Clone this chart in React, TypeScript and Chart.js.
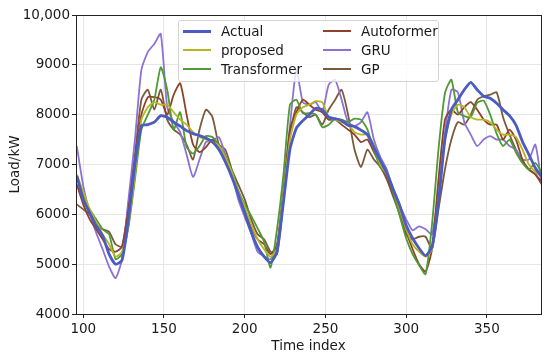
import React, { useEffect, useRef } from "react";
import { Chart, registerables } from "chart.js";

Chart.register(...registerables);

const timeIndex = [
  96, 100, 104, 108, 112, 116, 120, 124, 128, 132, 136, 140, 144, 148, 152, 156, 160, 164, 168, 172,
  176, 180, 184, 188, 192, 196, 200, 204, 208, 212, 216, 220, 224, 228, 232, 236, 240, 244, 248, 252,
  256, 260, 264, 268, 272, 276, 280, 284, 288, 292, 296, 300, 304, 308, 312, 316, 320, 324, 328, 332,
  336, 340, 344, 348, 352, 356, 360, 364, 368, 372, 376, 380, 384,
];

const actual = [
  6770, 6300, 6030, 5770, 5570, 5200, 5000, 5080, 5900, 7000, 7780, 7800, 7850, 7980, 7950, 7850, 7770, 7680, 7620, 7580,
  7530, 7450, 7300, 7050, 6750, 6400, 6030, 5650, 5340, 5150, 5030, 5250, 6250, 7300, 7730, 7880, 8000, 8130, 8100, 7950,
  7920, 7880, 7790, 7760, 7690, 7600, 7350, 7080, 6830, 6500, 6180, 5780, 5520, 5320, 5170, 5350, 6250, 7500, 8100, 8300,
  8500, 8650, 8500, 8370, 8330, 8230, 8100, 7980, 7790, 7460, 7200, 6930, 6750,
];

const proposed = [
  6800, 6450, 6100, 5850, 5600, 5400, 5150, 5250, 5800, 6800, 7900, 8150, 8250, 8200, 8200, 8050, 7900, 7800, 7650, 7550,
  7500, 7450, 7380, 7150, 6850, 6450, 6150, 5800, 5500, 5300, 5150, 5300, 6400, 7500, 8000, 8150, 8200, 8270, 8250, 7950,
  7900, 7850, 7800, 7650, 7600, 7600, 7400, 7000, 6800, 6500, 6100, 5700, 5400, 5250, 5150, 5300, 6300, 7500, 8000, 8200,
  8150, 7950, 7900, 7900, 7850, 7700, 7600, 7600, 7550, 7300, 7000, 6850, 6750,
];

const transformer = [
  6750, 6400, 6100, 5900, 5700, 5600, 5100, 5200, 5750, 6700, 7700, 8000, 8300, 8950, 8500, 7700, 8050, 7350, 7220, 7370,
  7570, 7550, 7380, 7150, 6880, 6480, 6200, 5970, 5720, 5450, 4930, 5700, 6800, 8200, 8300, 8030, 8030, 8000, 7750, 7800,
  7920, 7900, 7850, 7920, 7900, 7700, 7300, 6950, 6830, 6430, 5970, 5520, 5200, 4980, 4800, 5800, 7300, 8430, 8700, 8050,
  7970, 7950, 8240, 8280, 8000, 7620, 7370, 7500, 7240, 7030, 6900, 7030, 6830,
];

const autoformer = [
  6600, 6200, 5900, 5700, 5500, 5300, 5250, 5350, 6100, 7100, 8000, 8350, 8350, 8300, 8000, 8400, 8630, 8000, 7400, 7250,
  7350, 7500, 7380, 7150, 6850, 6450, 6100, 5750, 5500, 5400, 5200, 5400, 6500, 7700, 8050, 8300, 8200, 8100, 8050, 7900,
  7900, 7800, 7700, 7600, 7450, 7500, 7250, 7000, 6750, 6400, 6050, 5650, 5300, 5000, 4850, 5300, 6700, 7900, 8100, 8000,
  8150, 8250, 8100, 7900, 7800, 7800, 7500, 7700, 7500, 7100, 6900, 6800, 6650,
];

const gru = [
  7370, 6570, 6030, 5630, 5300, 4950, 4720, 5100, 6300, 7500, 8900, 9260, 9420, 9620, 8150, 7850, 7650, 7200, 6750, 7100,
  7450, 7480, 7550, 7200, 6800, 6300, 5950, 5620, 5250, 5160, 5100, 5350, 6400, 7770, 8900, 8250, 8200, 8250, 8050, 8600,
  8700, 8300, 7850, 7770, 7850, 8050, 7500, 7150, 6900, 6500, 6180, 5900, 5680, 5760, 5700, 5600, 6450, 7630, 8500, 8450,
  7850, 7600, 7370, 7500, 7570, 7500, 7500, 7370, 7300, 7100, 7100, 7400, 6600,
];

const gp = [
  6200, 6100, 6000, 5800, 5700, 5650, 5400, 5350, 6200, 7200, 8300, 8500, 8100, 8500, 7900, 7700, 7600, 7400, 7100, 7700,
  8100, 7950, 7400, 7300, 6900, 6600, 6300, 5900, 5600, 5500, 5250, 5200, 6300, 7600, 8150, 8050, 7950, 8000, 7800, 8100,
  8300, 8500, 8000, 7300, 6950, 7300, 7100, 6950, 6700, 6350, 6000, 5600, 5500, 5550, 5550, 5300, 6100, 6900, 7500, 7850,
  7800, 8000, 8300, 8370, 8400, 8450, 7950, 7600, 7300, 7050, 6900, 6800, 6600,
];

const xTicks = [100, 150, 200, 250, 300, 350];
const yTicks = [4000, 5000, 6000, 7000, 8000, 9000, 10000];
const yTickLabels = ["4000", "5000", "6000", "7000", "8000", "9000", "10,000"];

const seriesList = [
  { label: "Actual", data: actual, color: "#4a5bc4", width: 2.8 },
  { label: "proposed", data: proposed, color: "#b8b522", width: 1.8 },
  { label: "Transformer", data: transformer, color: "#4e9a36", width: 1.8 },
  { label: "Autoformer", data: autoformer, color: "#8f4228", width: 1.8 },
  { label: "GRU", data: gru, color: "#8c72d4", width: 1.8 },
  { label: "GP", data: gp, color: "#7a5a3c", width: 1.8 },
];

const legendCols = [
  ["Actual", "proposed", "Transformer"],
  ["Autoformer", "GRU", "GP"],
];

const FONT = "'DejaVu Sans', sans-serif";
const TEXT = "#1a1a1a";

const framePlugin = {
  id: "frame",
  afterDatasetsDraw(chart: any) {
    const { ctx, chartArea } = chart;
    const { left, top, right, bottom } = chartArea;
    ctx.save();
    ctx.strokeStyle = "#222";
    ctx.lineWidth = 1;
    ctx.strokeRect(Math.round(left) + 0.5, Math.round(top) + 0.5, Math.round(right - left), Math.round(bottom - top));
    ctx.restore();
  },
};

export default function App() {
  const canvasRef = useRef<HTMLCanvasElement | null>(null);

  useEffect(() => {
    if (!canvasRef.current) return;
    Chart.defaults.font.family = FONT;
    const chart = new Chart(canvasRef.current, {
      type: "line",
      data: {
        datasets: seriesList.map((s) => ({
          label: s.label,
          data: timeIndex.map((t, i) => ({ x: t, y: s.data[i] })),
          borderColor: s.color,
          backgroundColor: s.color,
          borderWidth: s.width,
          pointRadius: 0,
          tension: 0.2,
          fill: false,
        })),
      },
      options: {
        responsive: false,
        animation: false,
        maintainAspectRatio: false,
        layout: { padding: { top: 15, right: 9, left: 0, bottom: 0 }, autoPadding: false } as any,
        plugins: {
          legend: { display: false },
          tooltip: { enabled: false },
        },
        scales: {
          x: {
            type: "linear",
            min: 95.5,
            max: 383.5,
            afterBuildTicks: (s: any) => {
              s.ticks = xTicks.map((v) => ({ value: v }));
            },
            afterFit: (s: any) => {
              s.height = 46;
            },
            ticks: {
              color: TEXT,
              font: { size: 13.5 },
              padding: 3,
              maxRotation: 0,
              autoSkip: false,
              callback: (v: any) => String(v),
            },
            grid: { color: "#e6e6e6", tickColor: "#222", tickLength: 4, lineWidth: 1 },
            border: { display: false },
            title: {
              display: true,
              text: "Time index",
              color: TEXT,
              font: { size: 13.5 },
              padding: { top: 0, bottom: 5 },
            },
          },
          y: {
            type: "linear",
            min: 4000,
            max: 10000,
            afterBuildTicks: (s: any) => {
              s.ticks = yTicks.map((v) => ({ value: v }));
            },
            afterFit: (s: any) => {
              s.width = 76;
            },
            ticks: {
              color: TEXT,
              font: { size: 13.5 },
              padding: 2,
              autoSkip: false,
              callback: (v: any) => {
                const i = yTicks.indexOf(Number(v));
                return i >= 0 ? yTickLabels[i] : "";
              },
            },
            grid: { color: "#e6e6e6", tickColor: "#222", tickLength: 4, lineWidth: 1 },
            border: { display: false },
            title: {
              display: true,
              text: "Load/kW",
              color: TEXT,
              font: { size: 13.5 },
              padding: { top: 7, bottom: 0 },
            },
          },
        },
      },
      plugins: [framePlugin],
    } as any);
    return () => chart.destroy();
  }, []);

  const colorOf = (label: string) => seriesList.find((s) => s.label === label)!;

  return (
    <div style={{ position: "absolute", left: 0, top: 0, width: 550, height: 360, background: "#fff" }}>
      <canvas ref={canvasRef} width={550} height={360} style={{ display: "block" }} />
      <div
        style={{
          position: "absolute",
          left: 178,
          top: 20,
          width: 261,
          height: 62,
          boxSizing: "border-box",
          background: "rgba(255,255,255,0.8)",
          border: "1px solid #d4d4d4",
          borderRadius: 3,
          fontFamily: FONT,
          fontSize: 13.5,
          color: TEXT,
        }}
      >
        {legendCols.map((col, ci) =>
          col.map((label, ri) => {
            const s = colorOf(label);
            return (
              <div
                key={label}
                style={{
                  position: "absolute",
                  left: ci === 0 ? 4 : 144,
                  top: 1 + ri * 19,
                  height: 18,
                  display: "flex",
                  alignItems: "center",
                  whiteSpace: "nowrap",
                  lineHeight: "18px",
                }}
              >
                <span
                  style={{
                    display: "inline-block",
                    width: 28,
                    height: s.width >= 2.5 ? 3 : 2,
                    background: s.color,
                    marginRight: 10,
                  }}
                />
                <span>{label}</span>
              </div>
            );
          })
        )}
      </div>
    </div>
  );
}
